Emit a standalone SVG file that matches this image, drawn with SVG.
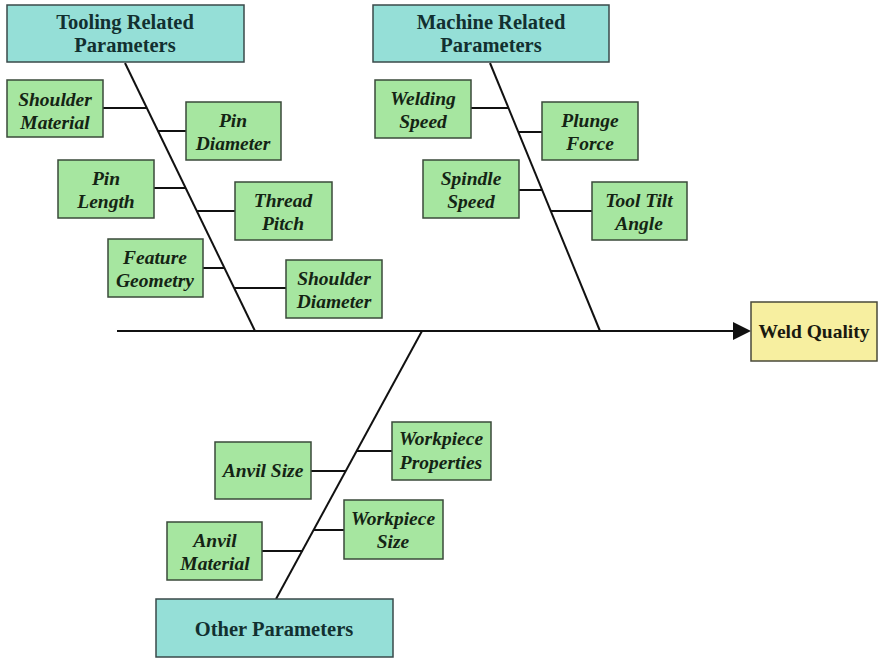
<svg xmlns="http://www.w3.org/2000/svg" width="878" height="658" viewBox="0 0 878 658">
<style>
.hdr{fill:#95DFD7;stroke:#3a4a4a;stroke-width:1.5}
.leaf{fill:#A6E6A0;stroke:#3a4a3a;stroke-width:1.5}
.eff{fill:#F7EFA0;stroke:#4a4a3a;stroke-width:1.5}
.th{font-family:"Liberation Serif",serif;font-weight:bold;font-size:20.5px;fill:#123030;text-anchor:middle}
.tw{font-family:"Liberation Serif",serif;font-weight:bold;font-size:19.5px;fill:#1a1a10;text-anchor:middle}
.tl{font-family:"Liberation Serif",serif;font-weight:bold;font-style:italic;font-size:19.5px;fill:#142414;text-anchor:middle}
.ln{stroke:#111;stroke-width:2;fill:none}
</style>
<g id="connectors">
<line class="ln" x1="117" y1="331" x2="733" y2="331"/>
<path d="M733,322 L751,331 L733,340 z" fill="#111"/>
<line class="ln" x1="125" y1="63" x2="255" y2="331"/>
<line class="ln" x1="103" y1="108" x2="147" y2="108"/>
<line class="ln" x1="158" y1="131" x2="186" y2="131"/>
<line class="ln" x1="154" y1="188" x2="186" y2="188"/>
<line class="ln" x1="197" y1="211" x2="235" y2="211"/>
<line class="ln" x1="203" y1="268" x2="224" y2="268"/>
<line class="ln" x1="234" y1="288" x2="286" y2="288"/>
<line class="ln" x1="490" y1="63" x2="600" y2="331"/>
<line class="ln" x1="471" y1="108" x2="508" y2="108"/>
<line class="ln" x1="518" y1="132" x2="542" y2="132"/>
<line class="ln" x1="519" y1="190" x2="542" y2="190"/>
<line class="ln" x1="551" y1="211" x2="592" y2="211"/>
<line class="ln" x1="422" y1="331" x2="276" y2="599"/>
<line class="ln" x1="357" y1="451" x2="392" y2="451"/>
<line class="ln" x1="311" y1="471" x2="346" y2="471"/>
<line class="ln" x1="314" y1="530" x2="344" y2="530"/>
<line class="ln" x1="262" y1="551" x2="303" y2="551"/>
</g>
<g id="tooling"><rect class="hdr" x="7" y="5" width="237" height="57"/><text class="th" x="125" y="29">Tooling Related</text><text class="th" x="125" y="52">Parameters</text></g>
<g id="machine"><rect class="hdr" x="373" y="5" width="236" height="57"/><text class="th" x="491" y="29">Machine Related</text><text class="th" x="491" y="52">Parameters</text></g>
<g id="other"><rect class="hdr" x="156" y="599" width="237" height="58"/><text class="th" x="274" y="636">Other Parameters</text></g>
<g id="weld"><rect class="eff" x="751" y="302" width="126" height="59"/><text class="tw" x="814" y="338">Weld Quality</text></g>
<g id="shoulder-material"><rect class="leaf" x="7" y="80" width="96" height="57"/><text class="tl" x="55" y="106">Shoulder</text><text class="tl" x="55" y="129">Material</text></g>
<g id="pin-diameter"><rect class="leaf" x="186" y="102" width="95" height="58"/><text class="tl" x="233" y="127">Pin</text><text class="tl" x="233" y="150">Diameter</text></g>
<g id="pin-length"><rect class="leaf" x="58" y="160" width="96" height="58"/><text class="tl" x="106" y="185">Pin</text><text class="tl" x="106" y="208">Length</text></g>
<g id="thread-pitch"><rect class="leaf" x="235" y="182" width="97" height="58"/><text class="tl" x="283" y="207">Thread</text><text class="tl" x="283" y="230">Pitch</text></g>
<g id="feature-geometry"><rect class="leaf" x="108" y="239" width="95" height="58"/><text class="tl" x="155" y="264">Feature</text><text class="tl" x="155" y="287">Geometry</text></g>
<g id="shoulder-diameter"><rect class="leaf" x="286" y="260" width="96" height="58"/><text class="tl" x="334" y="285">Shoulder</text><text class="tl" x="334" y="308">Diameter</text></g>
<g id="welding-speed"><rect class="leaf" x="375" y="80" width="96" height="58"/><text class="tl" x="423" y="105">Welding</text><text class="tl" x="423" y="128">Speed</text></g>
<g id="plunge-force"><rect class="leaf" x="542" y="102" width="96" height="58"/><text class="tl" x="590" y="127">Plunge</text><text class="tl" x="590" y="150">Force</text></g>
<g id="spindle-speed"><rect class="leaf" x="423" y="160" width="96" height="58"/><text class="tl" x="471" y="185">Spindle</text><text class="tl" x="471" y="208">Speed</text></g>
<g id="tool-tilt-angle"><rect class="leaf" x="592" y="182" width="95" height="58"/><text class="tl" x="639" y="207">Tool Tilt</text><text class="tl" x="639" y="230">Angle</text></g>
<g id="anvil-size"><rect class="leaf" x="215" y="442" width="96" height="57"/><text class="tl" x="263" y="477">Anvil Size</text></g>
<g id="workpiece-properties"><rect class="leaf" x="392" y="422" width="99" height="58"/><text class="tl" x="441" y="445">Workpiece</text><text class="tl" x="441" y="469">Properties</text></g>
<g id="workpiece-size"><rect class="leaf" x="344" y="500" width="99" height="59"/><text class="tl" x="393" y="525">Workpiece</text><text class="tl" x="393" y="548">Size</text></g>
<g id="anvil-material"><rect class="leaf" x="167" y="522" width="95" height="58"/><text class="tl" x="215" y="547">Anvil</text><text class="tl" x="215" y="570">Material</text></g>
</svg>
